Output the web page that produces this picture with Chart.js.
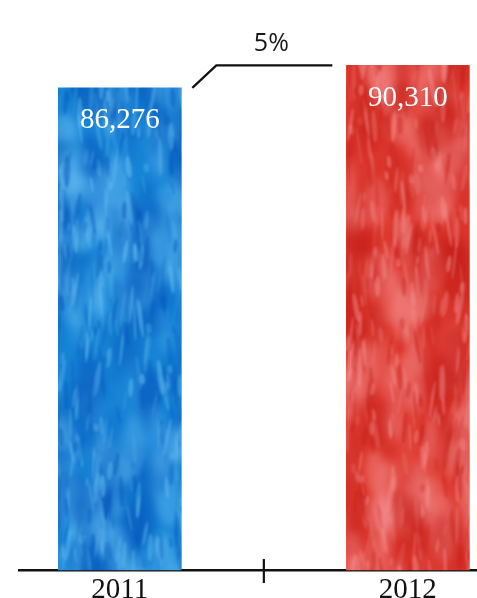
<!DOCTYPE html>
<html>
<head>
<meta charset="utf-8">
<script src="https://cdn.jsdelivr.net/npm/chart.js@4/dist/chart.umd.min.js"></script>
<style>
  html, body { margin: 0; padding: 0; background: #ffffff; }
  #wrap { width: 477px; height: 598px; }
</style>
</head>
<body>
<div id="wrap"><canvas id="chart"></canvas></div>
<script>
// Yearly totals
const years = ['2011', '2012'];
const totals = [86276, 90310];

// Watercolour-like fill: broad soft patches plus thin vertical streaks,
// each layer painted sharp and then softened once onto the output canvas
function makeTexture(base, light, dark, seed) {
  const w = 480, h = 600;
  let s = seed >>> 0;
  const next = () => { s = (Math.imul(s, 1664525) + 1013904223) >>> 0; return s / 4294967296; };
  const layer = (count, rxMin, rxVar, ryMin, ryVar, aMin, aVar, lightShare) => {
    const c = document.createElement('canvas');
    c.width = w; c.height = h;
    const g = c.getContext('2d');
    for (let i = 0; i < count; i++) {
      const x = next() * w, y = next() * h;
      const rx = rxMin + next() * rxVar, ry = ryMin + next() * ryVar;
      g.globalAlpha = aMin + next() * aVar;
      g.fillStyle = next() < lightShare ? light : dark;
      g.beginPath();
      g.ellipse(x, y, rx, ry, (next() - 0.5) * 0.4, 0, Math.PI * 2);
      g.fill();
    }
    return c;
  };
  const broad = layer(700, 5, 10, 12, 30, 0.15, 0.3, 0.45);
  const fine = layer(1600, 0.8, 2.2, 4, 16, 0.15, 0.35, 0.6);
  const out = document.createElement('canvas');
  out.width = w; out.height = h;
  const o = out.getContext('2d');
  o.fillStyle = base;
  o.fillRect(0, 0, w, h);
  o.filter = 'blur(4px)';
  o.drawImage(broad, 0, 0);
  o.filter = 'blur(1.3px)';
  o.drawImage(fine, 0, 0);
  return o.createPattern(out, 'no-repeat');
}

const blueFill = makeTexture('#1784d6', '#6cc2f4', '#0658bb', 7);
const redFill = makeTexture('#de3a30', '#f49090', '#c41e18', 19);

// Value labels, growth connector and the centre tick on the base line
const overlay = {
  id: 'overlay',
  afterDatasetsDraw(chart) {
    const ctx = chart.ctx;
    const bars = chart.getDatasetMeta(0).data;
    const xs = chart.scales.x;
    const area = chart.chartArea;
    ctx.save();

    ctx.fillStyle = '#ffffff';
    ctx.font = '29px "Liberation Serif"';
    ctx.textAlign = 'center';
    ctx.textBaseline = 'middle';
    bars.forEach((b, i) => {
      ctx.fillText(totals[i].toLocaleString('en-US'), b.x, b.y + 33);
    });

    const b0 = bars[0], b1 = bars[1];
    const sx = b0.x + b0.width / 2 + 11;
    const ex = b1.x - b1.width / 2 - 14;
    ctx.strokeStyle = '#111111';
    ctx.lineWidth = 2.2;
    ctx.beginPath();
    ctx.moveTo(sx, b0.y);
    ctx.lineTo(sx + 24, b1.y);
    ctx.lineTo(ex, b1.y);
    ctx.stroke();

    const growth = Math.round((totals[1] / totals[0] - 1) * 100) + '%';
    ctx.fillStyle = '#1a1a1a';
    ctx.font = '25px "Open Sans"';
    ctx.fillText(growth, (sx + 24 + ex) / 2 - 3, b1.y - 21);

    const mx = xs.getPixelForValue(0.5);
    ctx.lineWidth = 2.2;
    ctx.beginPath();
    ctx.moveTo(mx, area.bottom - 11);
    ctx.lineTo(mx, area.bottom + 13);
    ctx.stroke();
    ctx.restore();
  }
};

new Chart(document.getElementById('chart'), {
  type: 'bar',
  data: {
    datasets: [{
      data: years.map((_, i) => ({ x: i, y: totals[i] })),
      backgroundColor: [blueFill, redFill],
      barThickness: 123,
      clip: false
    }]
  },
  options: {
    responsive: true,
    maintainAspectRatio: false,
    animation: false,
    layout: { padding: { left: 19, right: 0, top: 0, bottom: 0 } },
    plugins: { legend: { display: false }, tooltip: { enabled: false } },
    scales: {
      x: {
        type: 'linear',
        offset: false,
        min: -0.35,
        max: 1.24,
        grid: { display: false, drawTicks: false, offset: false },
        border: { display: true, color: '#111111', width: 2.5 },
        afterBuildTicks: s => { s.ticks = years.map((_, i) => ({ value: i })); },
        afterFit: s => { s.height = 28; },
        ticks: {
          callback: v => years[v],
          font: { family: 'Liberation Serif', size: 29 },
          color: '#111111',
          padding: 3,
          maxRotation: 0,
          autoSkip: false
        }
      },
      y: { display: false, min: 0, max: 102000 }
    }
  },
  plugins: [overlay]
});
</script>
</body>
</html>
